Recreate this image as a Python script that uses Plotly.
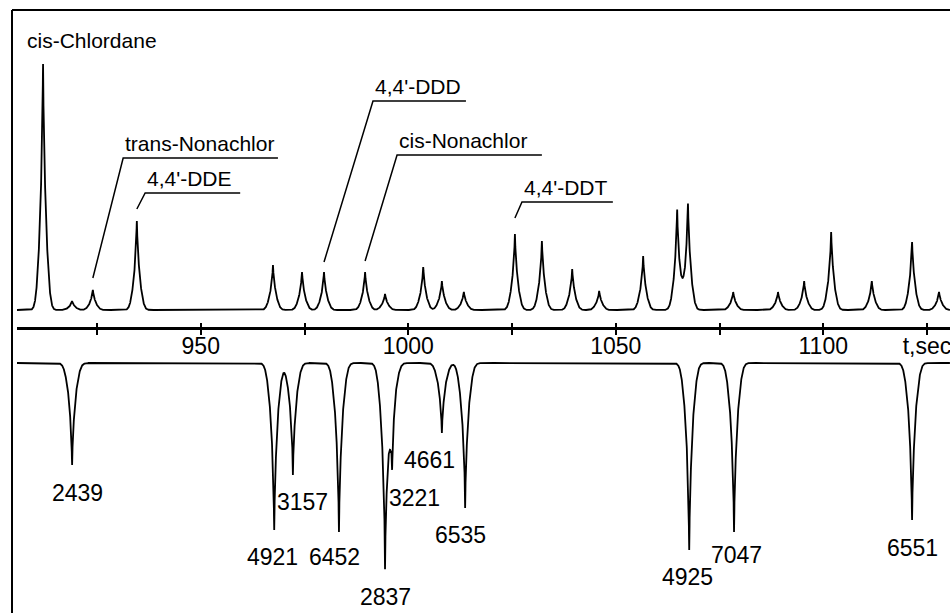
import numpy as np
import plotly.graph_objects as go

# ---------------- data ----------------
# upper trace (total ion current): retention time (s) and peak height (arb. units)
top_times = [912.0, 919.0, 924.0, 934.6, 967.4, 974.4, 979.7, 989.6, 994.4, 1003.6,
             1008.1, 1013.4, 1025.7, 1032.2, 1039.5, 1046.0, 1056.6, 1064.8, 1067.4,
             1078.3, 1089.1, 1095.4, 1101.9, 1111.7, 1121.4, 1127.9]
top_heights = [246, 9, 20, 89, 45, 38, 38, 38, 16, 43,
               29, 18, 76, 69, 41, 19, 54, 100, 106,
               18, 18, 29, 78, 29, 68, 18]

# lower (inverted) trace: retention time (s), depth (arb. units) and library number
bottom_times = [919.0, 967.7, 972.2, 983.3, 994.4, 996.1, 1008.1, 1013.7, 1067.7, 1078.5, 1121.4]
bottom_depths = [102, 167, 112, 169, 197, 86, 70, 145, 187, 169, 157]
bottom_labels = ["2439", "4921", "3157", "6452", "2837", "3221", "4661", "6535", "4925", "7047", "6551"]

# identified compounds on the upper trace
compound_names = ["cis-Chlordane", "trans-Nonachlor", "4,4'-DDE", "4,4'-DDD", "cis-Nonachlor", "4,4'-DDT"]
compound_times = [912.0, 924.0, 934.6, 979.7, 989.6, 1025.7]

# time axis ticks
tick_values = [925, 950, 975, 1000, 1025, 1050, 1075, 1100, 1125]
tick_labels = ["", "950", "", "1000", "", "1050", "", "1100", "t,sec"]

# ---------------- layout / placement (not data) ----------------
t_min, t_max = 905.72, 1130.54
y_min, y_max = -303, 310
top_base = 0
axis_y = -18
bottom_base = -53
frame_top = 300

# leader-labelled compounds: underline start / end (time), underline height, gap above peak
leader_x0 = [931.3, 936.6, 991.5, 997.3, 1027.4]
leader_x1 = [968.6, 959.5, 1013.9, 1032.2, 1049.3]
leader_y = [152, 117, 209, 155, 108]
leader_gap = [12, 12, 10, 11, 16]
first_label_pos = (907.65, 270)

# label centres for the lower trace
bottom_label_x = [920.4, 967.2, 974.6, 982.3, 994.4, 1001.6, 1005.2, 1012.7, 1067.2, 1079.2, 1121.4]
bottom_label_y = [-183, -247, -192, -247, -287, -188, -150, -225, -267, -245, -238]

TOP_SHAPE = [(0.5, 0.85), (0.3, 0.30), (0.2, 0.06)]
BOTTOM_SHAPE = [(0.45, 1.0), (0.30, 0.35), (0.25, 0.07)]

FONT = "Liberation Sans, Arial, sans-serif"
INK = "black"


def trace_signal(t, times, heights, shape):
    y = np.zeros_like(t)
    for c, h in zip(times, heights):
        for w, s in shape:
            y += h * w * np.exp(-0.5 * ((t - c) / s) ** 2)
    return y


t = np.arange(t_min, t_max, 0.02)
top_signal = top_base + trace_signal(t, top_times, top_heights, TOP_SHAPE)
bottom_signal = bottom_base - trace_signal(t, bottom_times, bottom_depths, BOTTOM_SHAPE)

fig = go.Figure()
fig.add_trace(go.Scatter(x=t, y=top_signal, mode="lines",
                         line=dict(color=INK, width=1.8), hoverinfo="skip"))
fig.add_trace(go.Scatter(x=t, y=bottom_signal, mode="lines",
                         line=dict(color=INK, width=1.8), hoverinfo="skip"))
# invisible trace to register the second (upward tick) axis
fig.add_trace(go.Scatter(x=[tick_values[0]], y=[axis_y], xaxis="x2", mode="markers",
                         marker=dict(opacity=0), hoverinfo="skip"))

annotations = []
# cis-Chlordane label (no leader)
annotations.append(dict(x=first_label_pos[0], y=first_label_pos[1], text=compound_names[0],
                        xanchor="left", yanchor="middle", showarrow=False,
                        font=dict(family=FONT, size=21, color=INK)))

top_lookup = dict(zip(top_times, top_heights))
for name, ct, x0, x1, ly, gap in zip(compound_names[1:], compound_times[1:],
                                     leader_x0, leader_x1, leader_y, leader_gap):
    peak_y = top_base + top_lookup[ct] + gap
    fig.add_trace(go.Scatter(x=[ct, x0, x1], y=[peak_y, ly, ly], mode="lines",
                             line=dict(color=INK, width=1.5), hoverinfo="skip"))
    annotations.append(dict(x=x0, y=ly + 15, text=name, xanchor="left", yanchor="middle",
                            showarrow=False, font=dict(family=FONT, size=21, color=INK)))

for lab, lx, ly in zip(bottom_labels, bottom_label_x, bottom_label_y):
    annotations.append(dict(x=lx, y=ly, text=lab, xanchor="center", yanchor="middle",
                            showarrow=False, font=dict(family=FONT, size=23, color=INK)))

W, H = 950, 613
ML = 17
plot_w = W - ML
axis_pos = (axis_y - y_min) / (y_max - y_min)
frame_x = -5 / plot_w

shapes = [
    dict(type="line", xref="paper", yref="y", x0=frame_x, x1=frame_x, y0=frame_top, y1=y_min,
         line=dict(color=INK, width=2)),
    dict(type="line", xref="paper", yref="y", x0=frame_x, x1=1, y0=frame_top, y1=frame_top,
         line=dict(color=INK, width=2)),
]

fig.update_layout(
    width=W, height=H, template="none",
    paper_bgcolor="white", plot_bgcolor="white",
    margin=dict(l=ML, r=0, t=0, b=0, pad=0),
    showlegend=False,
    font=dict(family=FONT, color=INK),
    xaxis=dict(range=[t_min, t_max], anchor="free", position=axis_pos,
               showline=True, linecolor=INK, linewidth=2.6,
               ticks="outside", ticklen=5, tickwidth=1.5, tickcolor=INK,
               tickvals=tick_values, ticktext=tick_labels,
               tickfont=dict(family=FONT, size=23, color=INK),
               ticklabeloverflow="allow", ticklabelstandoff=-8,
               showgrid=False, zeroline=False, automargin=False),
    xaxis2=dict(range=[t_min, t_max], matches="x", overlaying="x", anchor="free",
                position=axis_pos, side="top", showline=False,
                ticks="outside", ticklen=5, tickwidth=1.5, tickcolor=INK,
                tickvals=tick_values, showticklabels=False,
                showgrid=False, zeroline=False, automargin=False),
    yaxis=dict(range=[y_min, y_max], visible=False, showgrid=False, zeroline=False,
               automargin=False),
    annotations=annotations,
    shapes=shapes,
)

fig.write_html("out.html", config={"displayModeBar": False},
               post_script="document.body.style.margin='0';document.body.style.overflow='hidden';")
